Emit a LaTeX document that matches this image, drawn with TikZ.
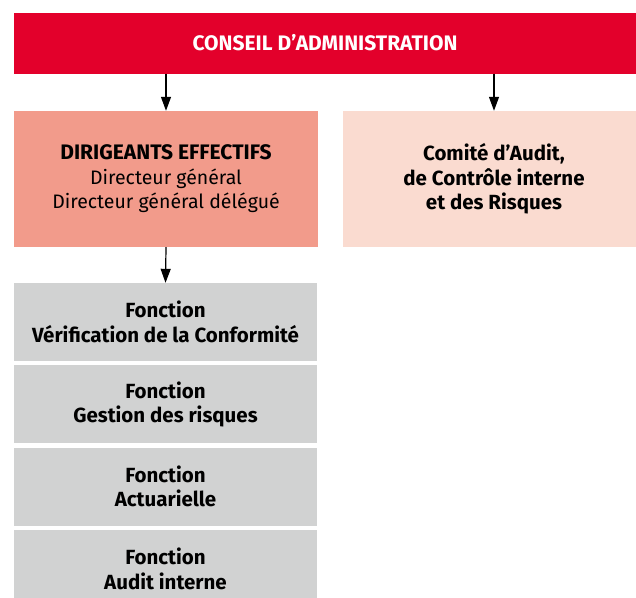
\documentclass[tikz,border=0pt]{standalone}
\usepackage{fontspec}
\setmainfont{Fira Sans}
\usetikzlibrary{arrows.meta}

\definecolor{cdared}{HTML}{E3002B}
\definecolor{dirsalmon}{HTML}{F29B8B}
\definecolor{comitepink}{HTML}{FADBD0}
\definecolor{fctgrey}{HTML}{D1D2D2}

\tikzset{
  box/.style={inner sep=0pt, align=center, font=\fontsize{19.5}{24.5}\selectfont},
  boldbox/.style={box, font=\fontsize{20.5}{24.5}\selectfont\bfseries},
  link/.style={line width=1.2pt, -{Triangle[length=14pt,width=10pt]}},
}

\begin{document}
\begin{tikzpicture}[x=1pt, y=-1pt]
\useasboundingbox (0,0) rectangle (636,597);
\clip (0,0) rectangle (636,597);

% top: board
\node[boldbox, font=\fontsize{21}{24.5}\selectfont\bfseries, fill=cdared, text=white,
  minimum width=622pt, minimum height=61pt]
  (cda) at (325,43) {CONSEIL D’ADMINISTRATION};

% second row
\node[box, fill=dirsalmon, minimum width=304pt, minimum height=136pt]
  (dir) at (166,179) {{\fontsize{21}{24.5}\selectfont\bfseries DIRIGEANTS EFFECTIFS}\\Directeur général\\Directeur général délégué};
\node[boldbox, fill=comitepink, minimum width=302pt, minimum height=136pt]
  (comite) at (494,179) {Comité d’Audit,\\de Contrôle interne\\et des Risques};

% key functions
\foreach \txt [count=\i] in {{Vérification de la Conformité},{Gestion des risques},{Actuarielle},{Audit interne}}
  \node[boldbox, fill=fctgrey, minimum width=303pt, minimum height=78pt]
    (f\i) at (165.5,{322+(\i-1)*82.3}) {Fonction\\\txt};

\draw[link] (cda.south -| dir.north) -- (dir.north);
\draw[link] (cda.south -| comite.north) -- (comite.north);
\draw[link] (dir.south) -- (f1.north);
\end{tikzpicture}
\end{document}
